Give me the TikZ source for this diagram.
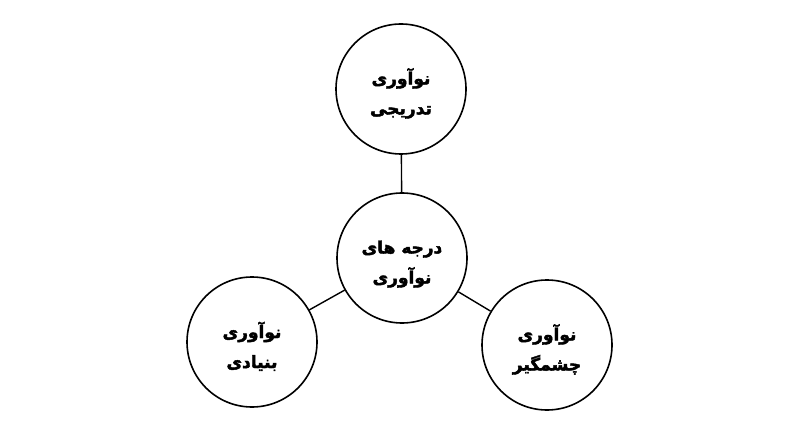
\documentclass[tikz,border=0pt]{standalone}
\usepackage{fontspec}
\TeXXeTstate=1
\newfontfamily\arabicfont[Script=Arabic,BoldFeatures={FakeBold=2.5}]{DejaVu Sans}
\newcommand{\toppad}{\rule{0pt}{25pt}}
\begin{document}
\begin{tikzpicture}[x=1pt,y=-1pt,
  bubble/.style={circle,draw=black,line width=1.6pt,minimum size=130pt,inner sep=0pt,
    align=center,font=\arabicfont\bfseries\fontsize{17}{30}\selectfont},
  link/.style={line width=1.4pt,draw=black}]
\useasboundingbox (0,0) rectangle (800,438);
\node[bubble] (top) at (401,89) {\toppad\beginR نوآوری\endR\\\beginR تدریجی\endR};
\node[bubble] (mid) at (402,258) {\toppad\beginR درجه های\endR\\\beginR نوآوری\endR};
\node[bubble] (left) at (252,342) {\toppad\beginR نوآوری\endR\\\beginR بنیادی\endR};
\node[bubble] (right) at (547,345) {\toppad\beginR نوآوری\endR\\\beginR چشمگیر\endR};
\draw[link] (top) -- (mid);
\draw[link] (mid) -- (left);
\draw[link] (mid) -- (right);
\end{tikzpicture}
\end{document}
